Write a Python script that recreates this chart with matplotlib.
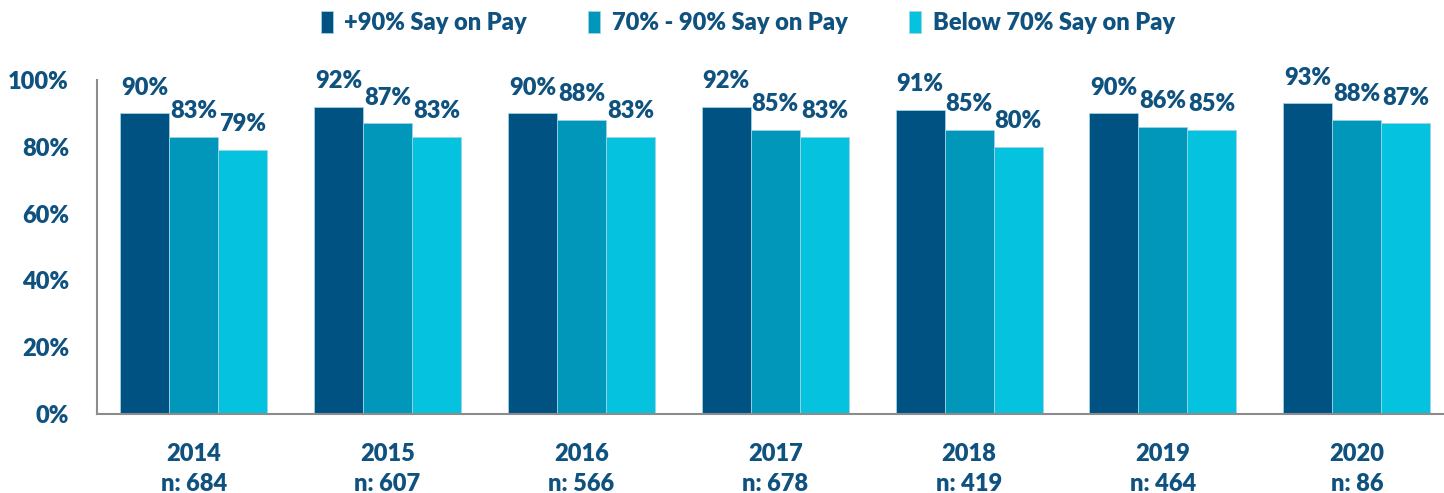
import numpy as np
import matplotlib.pyplot as plt
from matplotlib.ticker import PercentFormatter

plt.rcParams['font.family'] = ['Lato', 'DejaVu Sans']
plt.rcParams['font.weight'] = 'heavy'

years = ['2014', '2015', '2016', '2017', '2018', '2019', '2020']
counts = [684, 607, 566, 678, 419, 464, 86]
series_names = ['+90% Say on Pay', '70% - 90% Say on Pay', 'Below 70% Say on Pay']
above_90 = [0.90, 0.92, 0.90, 0.92, 0.91, 0.90, 0.93]
between_70_90 = [0.83, 0.87, 0.88, 0.85, 0.85, 0.86, 0.88]
below_70 = [0.79, 0.83, 0.83, 0.83, 0.80, 0.85, 0.87]

colors = ['#005283', '#0097BB', '#05C3DE']
text_color = '#10527F'
fs = 17

fig, ax = plt.subplots(figsize=(14.44, 4.93), dpi=100)
fig.subplots_adjust(left=0.067, right=1.0, top=0.838, bottom=0.16)

x = np.arange(len(years))
w = 0.253
for k, (vals, name) in enumerate(zip([above_90, between_70_90, below_70], series_names)):
    pos = x + (k - 1) * w
    ax.bar(pos, vals, w, color=colors[k], label=name, edgecolor='#9fd3e6', linewidth=0.6)
    for xp, v in zip(pos, vals):
        ax.annotate(f'{v * 100:.0f}%', (xp, v), xytext=(0, 18.5), textcoords='offset points',
                    ha='center', va='center', fontsize=fs, color=text_color, fontweight='heavy')

ax.set_xlim(-0.5, 6.45)
ax.set_ylim(0, 1.0)
ax.set_yticks(np.arange(0, 1.01, 0.2))
ax.yaxis.set_major_formatter(PercentFormatter(1.0, decimals=0))
ax.set_xticks(x)
ax.set_xticklabels([f'{y}\nn: {n}' for y, n in zip(years, counts)], linespacing=1.45)
ax.tick_params(axis='both', length=0, labelsize=fs, labelcolor=text_color)
ax.tick_params(axis='x', pad=21)
ax.tick_params(axis='y', pad=20)

for s in ['top', 'right']:
    ax.spines[s].set_visible(False)
for s in ['left', 'bottom']:
    ax.spines[s].set_color('#8c8c8c')
    ax.spines[s].set_linewidth(1.5)

leg = fig.legend(loc='upper center', bbox_to_anchor=(0.518, 1.02), ncol=3, frameon=False,
                 fontsize=fs, handlelength=0.5, handleheight=1.0, handletextpad=0.5, columnspacing=2.6)
for t in leg.get_texts():
    t.set_color(text_color)

fig.savefig('out.png', dpi=100)
